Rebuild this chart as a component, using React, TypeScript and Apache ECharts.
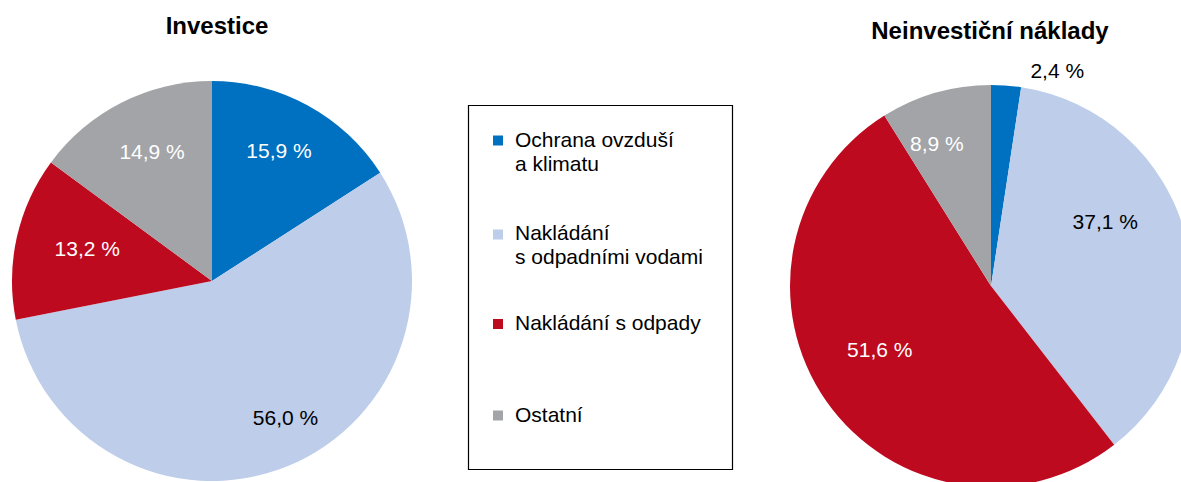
import React, { useEffect, useRef } from "react";
import * as echarts from "echarts";

const categories = ["Ochrana ovzduší a klimatu", "Nakládání s odpadními vodami", "Nakládání s odpady", "Ostatní"];
const legendLabels = ["Ochrana ovzduší\na klimatu", "Nakládání\ns odpadními vodami", "Nakládání s odpady", "Ostatní"];
const investiceValues = [15.9, 56.0, 13.2, 14.9];
const neinvesticniValues = [2.4, 37.1, 51.6, 8.9];
const titles = ["Investice", "Neinvestiční náklady"];
const colors = ["#0070C0", "#BDCDEA", "#BE0A1F", "#A2A4A7"];

const FONT = '"Liberation Sans", Arial, Helvetica, sans-serif';

export default function App() {
  const ref = useRef<HTMLDivElement>(null);

  useEffect(() => {
    if (!ref.current) return;
    const chart = echarts.init(ref.current, null, { renderer: "svg" });

    const centers = [[212, 281], [991, 286]];
    const radii = [200, 201];
    const K = 1.44;
    const nudges = [
      [[-4, 0], [18, -1], [20, 0], [7, 3]],
      [[55, -67], [-30, -27], [11, -22], [-13, 1]],
    ];
    const labelColors = [
      ["#fff", "#000", "#fff", "#fff"],
      ["#000", "#000", "#fff", "#fff"],
    ];

    const fmt = (p: any) => Number(p.value).toFixed(1).replace(".", ",") + " %";

    const mk = (s: number, values: number[]) => ({
      type: "pie",
      name: titles[s],
      center: centers[s],
      radius: radii[s],
      startAngle: 90,
      clockwise: true,
      silent: true,
      avoidLabelOverlap: false,
      label: {
        show: true,
        position: "inside",
        fontFamily: FONT,
        fontSize: 21,
        formatter: fmt,
      },
      labelLine: { show: false },
      emphasis: { disabled: true },
      itemStyle: { borderWidth: 0 },
      labelLayout: (p: any) => {
        const r = p.labelRect;
        const lx = r.x + r.width / 2;
        const ly = r.y + r.height / 2;
        const [cx, cy] = centers[s];
        const [dx, dy] = nudges[s][p.dataIndex];
        return {
          x: cx + K * (lx - cx) + dx,
          y: cy + K * (ly - cy) + dy,
          align: "center",
          verticalAlign: "middle",
        };
      },
      data: values.map((v, i) => ({
        name: categories[i],
        value: v,
        itemStyle: { color: colors[i] },
        label: { color: labelColors[s][i] },
      })),
    });

    const textCenters = [139, 232.5, 322.5, 414];
    const markerCenters = [140.5, 234.5, 324, 415.5];

    chart.setOption({
      animation: false,
      backgroundColor: "#fff",
      title: [
        {
          text: titles[0],
          left: 217,
          top: 13,
          textAlign: "center",
          padding: 0,
          textStyle: { fontFamily: FONT, fontSize: 24, fontWeight: "bold", color: "#000", lineHeight: 24 },
        },
        {
          text: titles[1],
          left: 990,
          top: 18,
          textAlign: "center",
          padding: 0,
          textStyle: { fontFamily: FONT, fontSize: 24, fontWeight: "bold", color: "#000", lineHeight: 24 },
        },
      ],
      series: [mk(0, investiceValues), mk(1, neinvesticniValues)],
      graphic: [
        {
          type: "rect",
          silent: true,
          shape: { x: 468.5, y: 105.5, width: 264, height: 364 },
          style: { fill: "none", stroke: "#000", lineWidth: 1.2 },
        },
        ...legendLabels.map((t, i) => ({
          type: "rect",
          silent: true,
          shape: { x: 493, y: markerCenters[i] - 5, width: 10, height: 10 },
          style: { fill: colors[i] },
        })),
        ...legendLabels.map((t, i) => ({
          type: "text",
          silent: true,
          x: 515,
          y: textCenters[i] - 12,
          style: {
            text: t,
            fontFamily: FONT,
            fontSize: 21,
            lineHeight: 24,
            fill: "#000",
            align: "left",
            verticalAlign: "top",
          },
        })),
      ],
    });

    return () => chart.dispose();
  }, []);

  return (
    <div
      ref={ref}
      style={{ position: "absolute", left: 0, top: 0, width: 1181, height: 482 }}
    />
  );
}
